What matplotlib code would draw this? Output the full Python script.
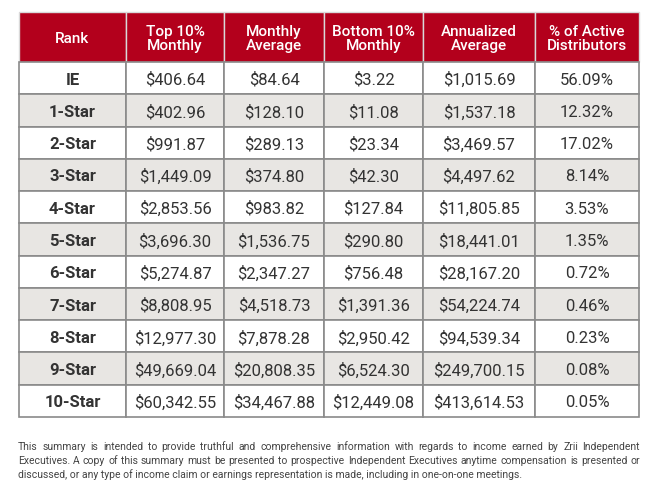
import matplotlib
matplotlib.use("Agg")
import matplotlib.pyplot as plt
from matplotlib.patches import Rectangle

headers = ["Rank", "Top 10%\nMonthly", "Monthly\nAverage", "Bottom 10%\nMonthly",
           "Annualized\nAverage", "% of Active\nDistributors"]
ranks = ["IE", "1-Star", "2-Star", "3-Star", "4-Star", "5-Star",
         "6-Star", "7-Star", "8-Star", "9-Star", "10-Star"]
top10 = ["$406.64", "$402.96", "$991.87", "$1,449.09", "$2,853.56", "$3,696.30",
         "$5,274.87", "$8,808.95", "$12,977.30", "$49,669.04", "$60,342.55"]
monthly_avg = ["$84.64", "$128.10", "$289.13", "$374.80", "$983.82", "$1,536.75",
               "$2,347.27", "$4,518.73", "$7,878.28", "$20,808.35", "$34,467.88"]
bottom10 = ["$3.22", "$11.08", "$23.34", "$42.30", "$127.84", "$290.80",
            "$756.48", "$1,391.36", "$2,950.42", "$6,524.30", "$12,449.08"]
annual_avg = ["$1,015.69", "$1,537.18", "$3,469.57", "$4,497.62", "$11,805.85", "$18,441.01",
              "$28,167.20", "$54,224.74", "$94,539.34", "$249,700.15", "$413,614.53"]
pct_active = ["56.09%", "12.32%", "17.02%", "8.14%", "3.53%", "1.35%",
              "0.72%", "0.46%", "0.23%", "0.08%", "0.05%"]

footnote = [
    "This summary is intended to provide truthful and comprehensive information with regards to income earned by Zrii Independent",
    "Executives. A copy of this summary must be presented to prospective Independent Executives anytime compensation is presented or",
    "discussed, or any type of income claim or earnings representation is made, including in one-on-one meetings.",
]

col_edges = [19, 126, 224, 324, 423, 535, 639]
header_top, header_bot = 13, 63
row_h = (418 - 63) / 11

red = "#B3001C"
grey_row = "#E8E6E3"
line_col = "#8A8A8A"
txt_col = "#333333"

fig = plt.figure(figsize=(6.53, 4.89), dpi=100)
ax = fig.add_axes([0, 0, 1, 1])
ax.set_xlim(0, 653)
ax.set_ylim(489, 0)
ax.axis("off")

font = "Roboto"

# header
for i, h in enumerate(headers):
    x0, x1 = col_edges[i], col_edges[i + 1]
    ax.add_patch(Rectangle((x0, header_top), x1 - x0, header_bot - header_top,
                           facecolor=red, edgecolor="#D9D9D9", lw=1))
    ax.text((x0 + x1) / 2, (header_top + header_bot) / 2 + 1, h, color="white",
            ha="center", va="center", fontsize=11, family=font, fontweight=500,
            linespacing=0.95)

columns = [ranks, top10, monthly_avg, bottom10, annual_avg, pct_active]
for r in range(len(ranks)):
    y0 = header_bot + r * row_h
    bg = "white" if r % 2 == 0 else grey_row
    for c, col in enumerate(columns):
        x0, x1 = col_edges[c], col_edges[c + 1]
        ax.add_patch(Rectangle((x0, y0), x1 - x0, row_h, facecolor=bg,
                               edgecolor=line_col, lw=1.2))
        ax.text((x0 + x1) / 2, y0 + row_h / 2 + 1, col[r], color=txt_col,
                ha="center", va="center", fontsize=12, family=font,
                fontweight="bold" if c == 0 else "normal")

# footnote, justified between left and right edges
renderer = fig.canvas.get_renderer()
left, right = 18, 640
fn_font = dict(fontsize=8.6, family=["Liberation Sans Narrow", "Roboto"], color="#444444")


def width_px(s):
    t = ax.text(0, 0, s, **fn_font)
    w = t.get_window_extent(renderer).width
    t.remove()
    return w


size = fn_font["fontsize"]
while max(width_px(l) for l in footnote) > right - left and size > 5:
    size -= 0.1
    fn_font["fontsize"] = size

for k, line in enumerate(footnote):
    y = 447 + k * 14
    if k == len(footnote) - 1:
        ax.text(left, y, line, ha="left", va="center", **fn_font)
        continue
    words = line.split(" ")
    widths = [width_px(w) for w in words]
    gap = (right - left - sum(widths)) / (len(words) - 1)
    x = left
    for w, wd in zip(words, widths):
        ax.text(x, y, w, ha="left", va="center", **fn_font)
        x += wd + gap

fig.savefig("out.png", dpi=100)
